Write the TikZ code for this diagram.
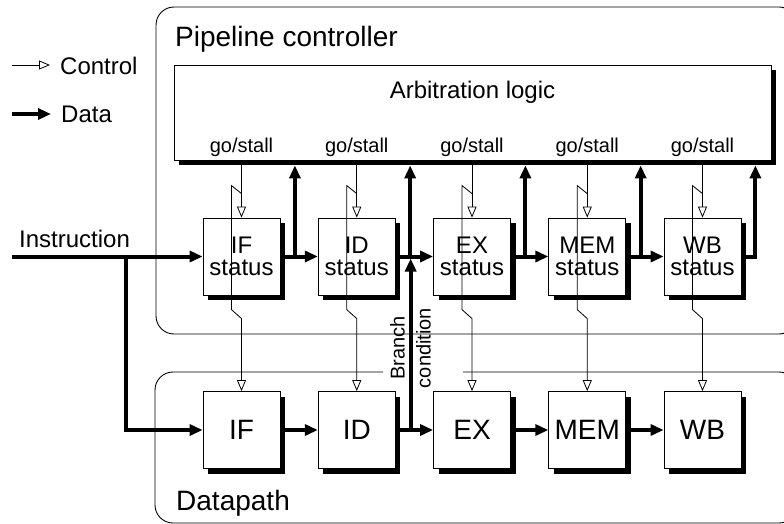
\documentclass[tikz,border=0pt]{standalone}
\usepackage{fontspec}
\setmainfont{Liberation Sans}
\usetikzlibrary{arrows.meta,shadows,calc}

\begin{document}
\begin{tikzpicture}[x=1pt,y=-1pt,
  frame/.style={draw=black, line width=0.9pt, rounded corners=18pt},
  shadowed/.style={draw=black, fill=white, line width=0.8pt, inner sep=0pt,
    drop shadow={shadow xshift=5pt, shadow yshift=-5pt, fill=black, opacity=1}},
  unitbox/.style={shadowed, minimum width=77pt, minimum height=77pt, align=center},
  statusbox/.style={unitbox, font=\fontsize{24pt}{22pt}\selectfont},
  pathbox/.style={unitbox, font=\fontsize{28pt}{30pt}\selectfont},
  data/.style={line width=4pt, -{Triangle[length=13pt,width=11pt]}},
  ctrl/.style={line width=0.8pt, -{Triangle[open,length=11pt,width=9pt,fill=white]}},
  title/.style={anchor=base west, inner sep=0pt, font=\fontsize{28pt}{30pt}\selectfont},
  label/.style={anchor=base west, inner sep=0pt, font=\fontsize{24pt}{26pt}\selectfont},
  small/.style={anchor=base, inner sep=0pt, font=\fontsize{20pt}{22pt}\selectfont},
]
\useasboundingbox (0,0) rectangle (784,524);
\clip (0,0) rectangle (784,524);

% outer frames
\draw[frame] (156,7) rectangle (797,334);
\draw[frame] (383,372) -- (155,372) -- (155,523) -- (797,523) -- (797,372) -- (463,372);
\node[title] (ptitle) at (175,47) {Pipeline controller};
\node[title] (dtitle) at (176,510) {Datapath};

% arbitration block
\node[shadowed, minimum width=597pt, minimum height=95pt] (arb) at (472.5,112.5) {};
\node[label, anchor=base] (arbtext) at (472.5,99) {Arbitration logic};

% pipeline stages: status row and datapath row
\foreach \n/\s [count=\i] in {IF/s1,ID/s2,EX/s3,MEM/s4,WB/s5} {
  \node[statusbox] (\s) at ({241.5+115.25*(\i-1)},256.5) {\n\\status};
  \node[small] (gs\i) at ({241.5+115.25*(\i-1)},153) {go/stall};
}
\foreach \n/\d [count=\i] in {IF/d1,ID/d2,EX/d3,MEM/d4,WB/d5} {
  \node[pathbox] (\d) at ({241.5+115.25*(\i-1)},430) {\n};
}

% legend
\coordinate (lca) at (12,65);
\coordinate (lcb) at (50,65);
\coordinate (lda) at (12,114);
\coordinate (ldb) at (51,114);
\draw[ctrl] (lca) -- (lcb);
\draw[data] (lda) -- (ldb);
\node[label] (lcontrol) at (60,75) {Control};
\node[label] (ldata) at (61,123) {Data};

% instruction input
\node[label] (instr) at (19,247) {Instruction};
\coordinate (iin) at (12,256.5);
\coordinate (fork) at (126,256.5);
\draw[data] (iin) -- (s1.west);
\draw[data] (fork) |- (d1.west);

% status row data flow and reports to the arbiter
\foreach \a/\b in {s1/s2,s2/s3,s3/s4,s4/s5} {
  \draw[data] (\a.east) -- (\b.west);
  \coordinate (up-\a) at ($(\a.east)+(14.5,0)$);
  \draw[data, shorten >=5pt] (up-\a) -- (up-\a |- arb.south);
}
\coordinate (up-s5) at ($(s5.east)+(14,0)$);
\draw[data, shorten >=5pt] (s5.east) -- (up-s5) -- (up-s5 |- arb.south);

% datapath data flow
\draw[data] (d1.east) -- (d2.west);
\draw[data] (d2.east) -- (d3.west);
\draw[data] (d3.east) -- (d4.west);
\draw[data] (d4.east) -- (d5.west);

% branch condition back to the controller
\coordinate (bc) at ($(d2.east)+(15,0)$);
\draw[data, shorten >=2pt] (bc) -- (bc |- s2.east);
\node[rotate=90, align=center, inner sep=0pt,
  font=\fontsize{20pt}{26pt}\selectfont] (bclabel) at (410.5,348) {Branch\\condition};

% go/stall control lines
\foreach \i in {1,...,5} {
  \draw[ctrl] (arb.south -| s\i.north) -- (s\i.north);
  \draw[ctrl] ($(s\i.north)+(0,-24)$) -- ++(-10,-8) -- ++(0,124) -- ++(10,9) -- (d\i.north);
}
\end{tikzpicture}
\end{document}
